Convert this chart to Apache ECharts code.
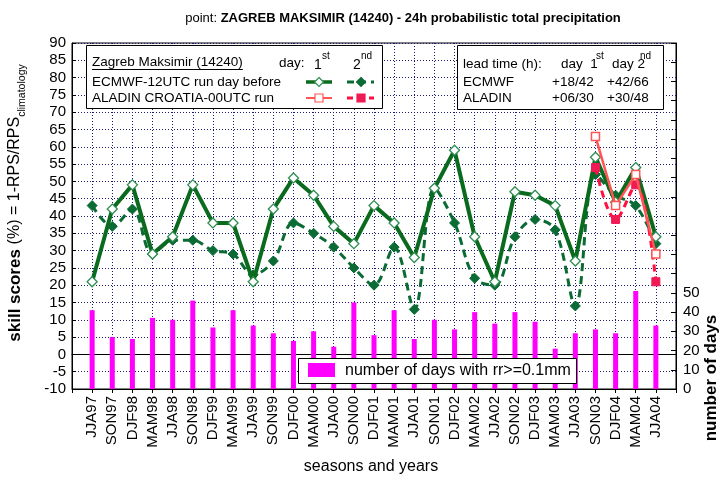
<!DOCTYPE html>
<html><head><meta charset="utf-8">
<script src="https://cdn.jsdelivr.net/npm/echarts@6/dist/echarts.min.js"></script>
<style>html,body{margin:0;padding:0;background:#fff}#c{width:724px;height:481px}</style>
</head><body><div id="c"></div>
<script>
const categories = ['JJA97','SON97','DJF98','MAM98','JJA98','SON98','DJF99','MAM99','JJA99','SON99','DJF00','MAM00','JJA00','SON00','DJF01','MAM01','JJA01','SON01','DJF02','MAM02','JJA02','SON02','DJF03','MAM03','JJA03','SON03','DJF04','MAM04','JJA04'];
const ecmwfDay1 = [21,42,49,29,34,49,38,38,21,42,51,46,37,32,43,38,28,48,59,34,21,47,46,43,27,57,44,54,34];
const ecmwfDay2 = [43,37,42,29,33,33,30,29,23,27,38,35,31,25,20,31,13,48,38,22,20,34,39,36,14,52,46,43,32];
const aladinCategories = ['SON03','DJF04','MAM04','JJA04'];
const aladinDay1 = [63,43,52,29];
const aladinDay2 = [54,39,49,21];
const rainDays = [41,27,26,37,36,46,32,41,33,29,25,30,22,45,28,41,26,36,31,40,34,40,35,21,29,31,29,51,33];
const skillTicks = {min:-10, max:90, step:5};
const dayTicks = {min:0, max:180, step:10, labelMax:50};

const FF = '"Liberation Sans", Arial, sans-serif';
const axisCats = [''].concat(categories, ['']);
const pad = arr => [null].concat(arr, [null]);
const aladinPad = arr => axisCats.map(c => { const i = aladinCategories.indexOf(c); return i >= 0 ? arr[i] : null; });

const GREEN = '#0a6a1e', GREEN_MK = '#2f8d52', GREEN2 = '#0b6b35';
const RED1 = '#ff5555', RED2 = '#ff1040', RED2_MK = '#f01a55';

function measure(txt, font){ const c=document.createElement('canvas').getContext('2d'); c.font=font; return c.measureText(txt).width; }
const LF = '13.5px ' + FF;

function diamond(cx, cy, r, fill, stroke){ return {type:'polygon', shape:{points:[[cx,cy-r],[cx+r,cy],[cx,cy+r],[cx-r,cy]]}, style:{fill:fill, stroke:stroke, lineWidth:1.2}, z:101}; }
function square(cx, cy, r, fill, stroke){ return {type:'rect', shape:{x:cx-r,y:cy-r,width:2*r,height:2*r}, style:{fill:fill, stroke:stroke, lineWidth:1.2}, z:101}; }
function seg(x1,x2,y,color,w,dash){ return {type:'line', shape:{x1:x1,y1:y,x2:x2,y2:y}, style:{stroke:color, lineWidth:w, lineDash:dash||null}, z:100}; }
function txt(x,y,t,font,align){ return {type:'text', x:x, y:y, style:{text:t, font:font||LF, fill:'#000', textAlign:align||'left', textVerticalAlign:'middle'}, z:102}; }

const stationTitle = 'Zagreb Maksimir (14240)';
const stW = measure(stationTitle, LF);

const graphics = [
  // title
  {type:'text', x:403, y:18, style:{text:'{n|point: }{b|ZAGREB MAKSIMIR (14240) - 24h probabilistic total precipitation}', rich:{n:{font:'13px '+FF, fill:'#000'}, b:{font:'bold 13px '+FF, fill:'#000'}}, textAlign:'center', textVerticalAlign:'middle'}},
  // y axis name
  {type:'text', x:15, y:203, rotation:Math.PI/2, style:{text:'{b|skill scores }{n|(%) = 1-RPS/RPS}{s|climatology}', rich:{b:{font:'bold 17px '+FF, fill:'#000', lineHeight:17, verticalAlign:'top'}, n:{font:'16px '+FF, fill:'#000', lineHeight:17, verticalAlign:'top'}, s:{font:'10.5px '+FF, fill:'#000', lineHeight:10, verticalAlign:'top', padding:[10,0,0,0]}}, textAlign:'center', textVerticalAlign:'middle'}},
  {type:'text', x:711, y:378, rotation:Math.PI/2, style:{text:'number of days', font:'bold 17px '+FF, fill:'#000', textAlign:'center', textVerticalAlign:'middle'}},
  {type:'text', x:371, y:467, style:{text:'seasons and years', font:'16px '+FF, fill:'#000', textAlign:'center', textVerticalAlign:'middle'}},
  // legend box 1
  {type:'rect', shape:{x:86.5,y:45.5,width:296,height:63}, style:{fill:'#fff', stroke:'#000', lineWidth:1}, z:99},
  txt(92,62,stationTitle),
  {type:'line', shape:{x1:92,y1:69.5,x2:92+stW,y2:69.5}, style:{stroke:'#000', lineWidth:1}, z:102},
  txt(279,63,'day:'),
  txt(314,65,'1','14px '+FF), txt(322,56,'st','10px '+FF),
  txt(353,65,'2','14px '+FF), txt(361,56,'nd','10px '+FF),
  txt(92,82,'ECMWF-12UTC run day before'),
  seg(306,332,82,GREEN,3.5), diamond(319,82,4.5,'#fff',GREEN_MK),
  seg(347,374,82,GREEN2,3,[7,5]), diamond(361,82,4.5,GREEN2,GREEN2),
  txt(92,98,'ALADIN CROATIA-00UTC run'),
  seg(306,332,98,RED1,2), square(319,98,4,'#fff',RED1),
  seg(347,374,98,RED2,3,[6,5]), square(361,98,4,RED2_MK,RED2_MK),
  // legend box 2
  {type:'rect', shape:{x:457.5,y:45.5,width:206,height:64}, style:{fill:'#fff', stroke:'#000', lineWidth:1}, z:99},
  txt(463,64,'lead time (h):'),
  txt(561,64,'day  1'), txt(596,56,'st','10px '+FF),
  txt(612,64,'day 2'), txt(640,56,'nd','10px '+FF),
  txt(463,82,'ECMWF'), txt(552,82,'+18/42'), txt(607,82,'+42/66'),
  txt(463,98,'ALADIN'), txt(552,98,'+06/30'), txt(607,98,'+30/48'),
  // bar legend
  {type:'rect', shape:{x:298.5,y:358.5,width:278,height:25}, style:{fill:'#fff', stroke:'#000', lineWidth:1}, z:99},
  {type:'rect', shape:{x:308,y:363,width:27,height:14}, style:{fill:'#ff00ff'}, z:101},
  txt(345,371,'number of days with rr>=0.1mm','16px '+FF)
];

const gridLine = {show:true, lineStyle:{type:[1,2], color:'#1a1a70', width:1}};
const chart = echarts.init(document.getElementById('c'), null, {renderer:'canvas'});
chart.setOption({
  animation:false,
  backgroundColor:'#fff',
  grid:{left:72, right:48, top:43, bottom:92, show:true, borderColor:'#000', borderWidth:1, backgroundColor:'transparent', containLabel:false},
  xAxis:[
    {type:'category', data:axisCats, boundaryGap:false, position:'bottom',
     axisLine:{show:true, lineStyle:{color:'#000', width:1}},
     axisTick:{show:true, inside:true, length:4, interval:0, lineStyle:{color:'#000'}},
     axisLabel:{show:true, interval:0, rotate:90, fontSize:15, fontFamily:FF, color:'#000', margin:7},
     splitLine:Object.assign({interval:0}, gridLine)},
    {type:'category', data:axisCats, boundaryGap:false, position:'top',
     axisLine:{show:true, lineStyle:{color:'#000'}},
     axisTick:{show:true, inside:true, length:4, interval:0, lineStyle:{color:'#000'}},
     axisLabel:{show:false}, splitLine:{show:false}}
  ],
  yAxis:[
    {type:'value', min:skillTicks.min, max:skillTicks.max, interval:skillTicks.step, position:'left',
     axisLine:{show:true, lineStyle:{color:'#000'}},
     axisTick:{show:true, inside:true, length:4, lineStyle:{color:'#000'}},
     axisLabel:{fontSize:15, fontFamily:FF, color:'#000', margin:6},
     splitLine:gridLine},
    {type:'value', min:dayTicks.min, max:dayTicks.max, interval:dayTicks.step, position:'right',
     axisLine:{show:true, lineStyle:{color:'#000'}},
     axisTick:{show:true, inside:true, length:5, lineStyle:{color:'#000'}},
     axisLabel:{fontSize:15, fontFamily:FF, color:'#000', margin:7, formatter:v => v <= dayTicks.labelMax ? String(v) : ''},
     splitLine:{show:false}}
  ],
  series:[
    {name:'number of days with rr>=0.1mm', type:'bar', xAxisIndex:0, yAxisIndex:1, data:pad(rainDays), barWidth:5, itemStyle:{color:'#ff00ff'}, z:2},
    {name:'ECMWF day 2', type:'line', yAxisIndex:0, data:pad(ecmwfDay2), smooth:0.35,
     lineStyle:{color:GREEN2, width:3, type:[8,5]}, symbol:'diamond', symbolSize:[10,10], showAllSymbol:true,
     itemStyle:{color:GREEN2, borderColor:GREEN2, borderWidth:1}, z:3},
    {name:'ECMWF day 1', type:'line', yAxisIndex:0, data:pad(ecmwfDay1),
     lineStyle:{color:GREEN, width:4}, symbol:'diamond', symbolSize:[10,10], showAllSymbol:true,
     itemStyle:{color:'#fff', borderColor:GREEN_MK, borderWidth:1.3}, z:4},
    {name:'ALADIN day 2', type:'line', yAxisIndex:0, data:aladinPad(aladinDay2), smooth:0.35,
     lineStyle:{color:RED2, width:3, type:[7,5]}, symbol:'rect', symbolSize:[8,8], showAllSymbol:true,
     itemStyle:{color:RED2_MK, borderColor:RED2_MK, borderWidth:1}, z:5},
    {name:'ALADIN day 1', type:'line', yAxisIndex:0, data:aladinPad(aladinDay1),
     lineStyle:{color:RED1, width:2.5}, symbol:'rect', symbolSize:[8,8], showAllSymbol:true,
     itemStyle:{color:'#fff', borderColor:RED1, borderWidth:1.5}, z:6}
  ],
  graphic:graphics
});
</script></body></html>
